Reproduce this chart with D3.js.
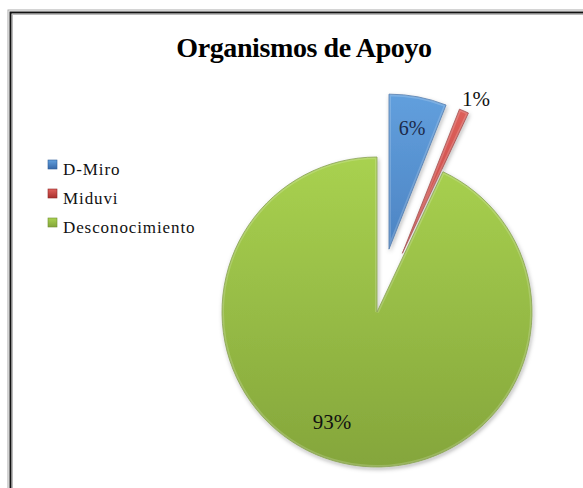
<!DOCTYPE html>
<html><head><meta charset="utf-8">
<script src="https://cdn.jsdelivr.net/npm/d3@7"></script>
<style>body{margin:0;background:#fff}svg{display:block}</style>
</head><body>
<script>
const categories = ["D-Miro", "Miduvi", "Desconocimiento"];
const values = [6, 1, 93];
const labels = ["6%", "1%", "93%"];
const title = "Organismos de Apoyo";

const FONT = '"Liberation Serif", "Times New Roman", serif';
const W = 583, H = 488;
const svg = d3.select("body").append("svg").attr("width", W).attr("height", H);
const defs = svg.append("defs");

const colors = [
  {top:"#62a0de", bot:"#3768a8", edge:"#2f5f9a"},
  {top:"#e0615c", bot:"#a9302d", edge:"#8e2a28"},
  {top:"#a9d250", bot:"#84a53b", edge:"#6f8d30"}
];
colors.forEach((c,i)=>{
  const g = defs.append("linearGradient").attr("id","g"+i)
    .attr("gradientUnits","userSpaceOnUse").attr("x1",0).attr("y1",-160).attr("x2",0).attr("y2",160);
  g.append("stop").attr("offset","0%").attr("stop-color",c.top);
  g.append("stop").attr("offset","100%").attr("stop-color",c.bot);
});
const f = defs.append("filter").attr("id","sh").attr("x","-20%").attr("y","-20%").attr("width","140%").attr("height","140%");
f.append("feDropShadow").attr("dx",1).attr("dy",2).attr("stdDeviation",2).attr("flood-color","#000").attr("flood-opacity",0.3);

// frame
svg.append("rect").attr("x",8).attr("y",10).attr("width",W).attr("height",H)
  .attr("fill","#fff").attr("stroke","#aaa").attr("stroke-width",1);
svg.append("rect").attr("x",10.5).attr("y",12.5).attr("width",W).attr("height",H)
  .attr("fill","none").attr("stroke","#111").attr("stroke-width",2);
svg.append("rect").attr("x",12.5).attr("y",14.5).attr("width",W).attr("height",H)
  .attr("fill","none").attr("stroke","#bbb").attr("stroke-width",1);

svg.append("text").attr("x",304).attr("y",57).attr("text-anchor","middle")
  .style("font-family",FONT).style("font-weight","bold").style("font-size","28px")
  .style("letter-spacing","-0.4px").text(title);

const cx = 377, cy = 312, R = 155;
const explode = [64, 64, 0];
const pie = d3.pie().sort(null).startAngle(0).endAngle(2*Math.PI);
const arcs = pie(values);
const arc = d3.arc().innerRadius(0).outerRadius(R);
const g = svg.append("g").attr("transform",`translate(${cx},${cy})`);

arcs.forEach((a,i)=>{
  const mid = (a.startAngle+a.endAngle)/2;
  const dx = Math.sin(mid)*explode[i], dy = -Math.cos(mid)*explode[i];
  const s = g.append("g").attr("transform",`translate(${dx},${dy})`);
  s.append("path").attr("d",arc(a)).attr("fill",`url(#g${i})`)
    .attr("stroke",colors[i].edge).attr("stroke-width",0.8).attr("filter","url(#sh)");
  s.append("path").attr("d",arc(a)).attr("fill","none")
    .attr("stroke","rgba(255,255,255,0.18)").attr("stroke-width",4);
});

// labels
const labelPos = [[412,135],[476,106],[332,429]];
const labelSize = [20,21,21];
labels.forEach((t,i)=>{
  svg.append("text").attr("x",labelPos[i][0]).attr("y",labelPos[i][1]).attr("text-anchor","middle")
    .style("font-family",FONT).style("font-size",labelSize[i]+"px")
    .attr("fill", i===0 ? "#1c2a4a" : "#111").text(t);
});

// legend
const lg = svg.append("g").attr("transform","translate(48,160)");
categories.forEach((c,i)=>{
  const lgr = defs.append("linearGradient").attr("id","lg"+i).attr("x1",0).attr("y1",0).attr("x2",0).attr("y2",1);
  lgr.append("stop").attr("offset","0%").attr("stop-color",colors[i].top);
  lgr.append("stop").attr("offset","100%").attr("stop-color",colors[i].bot);
  const row = lg.append("g").attr("transform",`translate(0,${i*29})`);
  row.append("rect").attr("x",0).attr("y",0).attr("width",9).attr("height",9)
    .attr("fill",`url(#lg${i})`).attr("stroke",colors[i].edge).attr("stroke-width",0.6);
  row.append("text").attr("x",15).attr("y",15)
    .style("font-family",FONT).style("font-size","17px").style("letter-spacing","0.9px")
    .attr("fill","#111").text(c);
});
</script>
</body></html>
